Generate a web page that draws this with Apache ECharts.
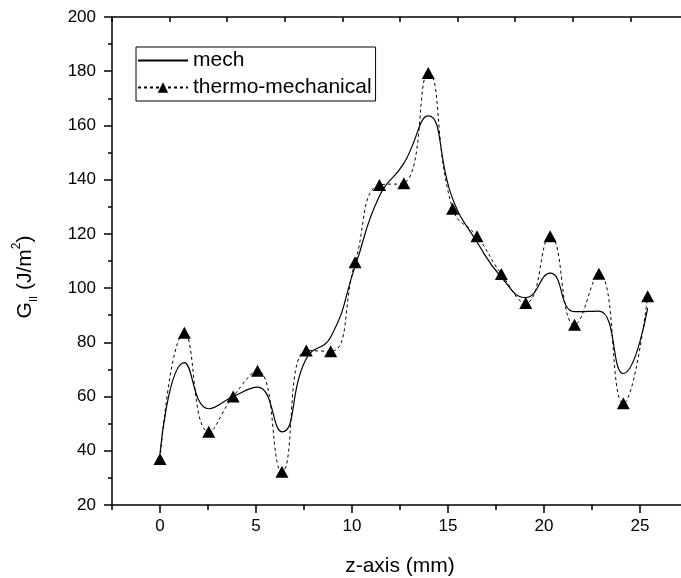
<!DOCTYPE html>
<html>
<head>
<meta charset="utf-8">
<script src="https://cdn.jsdelivr.net/npm/echarts@6/dist/echarts.min.js"></script>
<style>
html,body{margin:0;padding:0;background:#fff;}
#c{width:681px;height:578px;}
</style>
</head>
<body>
<div id="c"></div>
<script>
// ---- data ----
const zPositions = [0, 1.27, 2.54, 3.81, 5.08, 6.35, 7.62, 8.89, 10.16, 11.43, 12.7, 13.97, 15.24, 16.51, 17.78, 19.05, 20.32, 21.59, 22.86, 24.13, 25.4];
const mechValues = [39, 72.5, 55.5, 60, 63.5, 47, 74, 82, 108, 134, 146, 163.5, 133, 117, 104, 96.5, 105.5, 91.3, 91.5, 68.5, 92.6];
const thermoValues = [37, 83.5, 47, 60, 69.5, 32.3, 77, 76.7, 109.5, 138, 138.7, 179.3, 129.3, 119.1, 105.2, 94.5, 119.1, 86.5, 105.3, 57.5, 97];
const xMajorTicks = [0, 5, 10, 15, 20, 25];
const xMinorTicks = [-2.5, 2.5, 7.5, 12.5, 17.5, 22.5, 27.5];
const seriesNames = ['mech', 'thermo-mechanical'];

const FONT = 'Liberation Sans, Arial, Helvetica, sans-serif';
const zip = (xs, ys) => xs.map((x, i) => [x, ys[i]]);

const chart = echarts.init(document.getElementById('c'), null, {renderer: 'canvas'});
const axisLineStyle = {color: '#000', width: 1.5};

chart.setOption({
  animation: false,
  backgroundColor: '#fff',
  textStyle: {fontFamily: FONT, color: '#000'},
  grid: {left: 112, top: 17, right: -7, bottom: 73, containLabel: false, outerBoundsMode: 'none'},
  legend: {
    orient: 'vertical',
    left: 136, top: 47,
    padding: [3, 4, 3, 1],
    borderColor: '#000', borderWidth: 1,
    itemWidth: 50, itemHeight: 13, itemGap: 6,
    textStyle: {fontSize: 21, color: '#000', fontFamily: FONT},
    data: [
      {name: seriesNames[0], itemStyle: {opacity: 0}},
      {name: seriesNames[1]}
    ]
  },
  xAxis: [
    {
      type: 'value', position: 'bottom', min: -2.5, max: 27.5, interval: 2.5,
      name: 'z-axis (mm)', nameLocation: 'middle', nameGap: 51,
      nameTextStyle: {fontSize: 21, color: '#000', fontFamily: FONT},
      axisLine: {show: true, onZero: false, lineStyle: axisLineStyle},
      axisTick: {show: true, length: 8, lineStyle: axisLineStyle, customValues: xMajorTicks},
      axisLabel: {show: true, margin: 13, fontSize: 17, color: '#000', fontFamily: FONT, customValues: xMajorTicks},
      splitLine: {show: false}
    },
    {
      type: 'value', position: 'bottom', min: -2.5, max: 27.5, interval: 2.5,
      axisLine: {show: false, onZero: false},
      axisTick: {show: true, length: 5, lineStyle: axisLineStyle, customValues: xMinorTicks},
      axisLabel: {show: false},
      splitLine: {show: false}
    },
    {
      type: 'value', position: 'top', min: -2.5, max: 27.5, interval: 3,
      axisLine: {show: true, onZero: false, lineStyle: axisLineStyle},
      axisTick: {show: true, inside: true, length: 5, lineStyle: axisLineStyle},
      axisLabel: {show: false},
      splitLine: {show: false}
    }
  ],
  yAxis: [
    {
      type: 'value', position: 'left', min: 20, max: 200, interval: 20,
      name: '{g|G}{sub|II}{g| (J/m}{sup|2}{g|)}',
      nameLocation: 'middle', nameGap: 73, nameRotate: 90,
      nameTextStyle: {
        fontSize: 21, color: '#000', fontFamily: FONT, padding: [0, 32, 0, 0],
        rich: {
          g: {fontSize: 21, fontFamily: FONT, color: '#000', lineHeight: 28, verticalAlign: 'middle'},
          sub: {fontSize: 11, fontFamily: FONT, color: '#000', verticalAlign: 'bottom', lineHeight: 28},
          sup: {fontSize: 12, fontFamily: FONT, color: '#000', verticalAlign: 'top', lineHeight: 28}
        }
      },
      axisLine: {show: true, onZero: false, lineStyle: axisLineStyle},
      axisTick: {show: true, length: 8, lineStyle: axisLineStyle},
      minorTick: {show: true, splitNumber: 2, length: 4, lineStyle: axisLineStyle},
      axisLabel: {show: true, margin: 16, fontSize: 17, color: '#000', fontFamily: FONT},
      splitLine: {show: false},
      minorSplitLine: {show: false}
    }
  ],
  series: [
    {
      name: seriesNames[0], type: 'line', xAxisIndex: 0, yAxisIndex: 0,
      data: zip(zPositions, mechValues),
      smooth: 0.5, symbol: 'circle', symbolSize: 0, showSymbol: false,
      lineStyle: {color: '#000', width: 1.2, type: 'solid'},
      itemStyle: {color: '#000'},
      z: 3
    },
    {
      name: seriesNames[1], type: 'line', xAxisIndex: 0, yAxisIndex: 0,
      data: zip(zPositions, thermoValues),
      smooth: 0.5, symbol: 'triangle', symbolSize: [13, 12], showSymbol: true,
      lineStyle: {color: '#000', width: 1, type: [3, 3]},
      itemStyle: {color: '#000'},
      z: 4
    }
  ]
});
</script>
</body>
</html>
